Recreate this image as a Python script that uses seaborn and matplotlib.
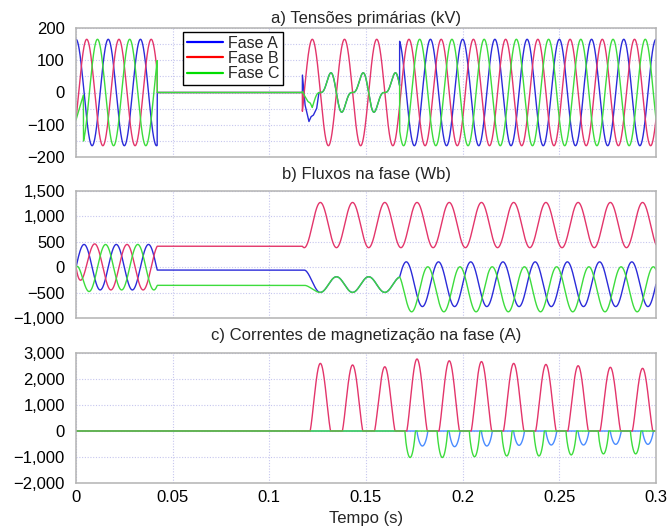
import numpy as np
import pandas as pd
import matplotlib
matplotlib.use("Agg")
import matplotlib.pyplot as plt
import seaborn as sns
from matplotlib.ticker import FuncFormatter, MultipleLocator, FixedLocator
from matplotlib.lines import Line2D

# ---------------- values ----------------
PHASE_NAMES = ["Fase A", "Fase B", "Fase C"]
FREQ_HZ = 60.0
PHASE_SHIFT = [0.0, -2 * np.pi / 3, 2 * np.pi / 3]
VOLT_PEAK_KV = 165.0
T_OPEN = 0.0420        # all three phases de-energised
T_CLOSE_B = 0.1171     # phase B re-energised
T_CLOSE_AC = 0.1674    # phases A and C re-energised
T_END = 0.30

# initial green (phase C) voltage transient
C_START_T = [0.0, 0.0038]
C_START_V = [-85.0, -8.0]
C_WAVE_START = 0.0039

# induced voltage on the open phases A / C while only B is energised
AC_INDUCED_KV = 47.0
AC_INDUCED_SHIFT = -1.55
A_TRANS_T = [0.11712, 0.1185, 0.1205, 0.1216, 0.1228, 0.1245]
A_TRANS_V = [54.0, -39.0, -90.0, -75.0, -70.0, -49.0]
A_MERGE = 0.1256
C_TRANS_T = [0.11712, 0.1185, 0.1200, 0.1212]
C_TRANS_V = [3.0, -13.0, -28.0, -33.0]
C_MERGE = 0.1222

# fluxes (Wb)
FLUX_PEAK_1 = 448.0
FLUX_START_TAU = 0.0027
FLUX_B_AMP_2 = 445.0
FLUX_AC_CENTER_2 = -342.0
FLUX_AC_AMP_2 = 154.0
FLUX_BLEND = (0.1180, 0.1262)
FLUX_A_CENTER_3, FLUX_A_AMP_3 = -335.0, 440.0
FLUX_C_CENTER_3, FLUX_C_AMP_3 = -435.0, 443.0
FLUX_JUMP_TAU = 0.001

# magnetising current pulses (A)
I_B_PEAKS = [2600, 2540, 2470, 2770, 2700, 2670, 2600, 2560, 2510, 2450, 2410]
I_C_PEAKS = [-1020, -1020, -990, -960, -960, -920, -880, -880]
I_A_PEAKS = [-577, -603, -577, -551, -538, -538, -513, -513]
I_B_FIRST_CYCLE = 7
I_AC_FIRST_CYCLE = 10
I_B_HALFWIDTH, I_B_POWER = 0.00530, 1.2
I_C_HALFWIDTH, I_C_POWER = 0.0027, 0.8
I_A_HALFWIDTH, I_A_POWER = 0.0028, 0.8
I_C_SHIFT = -0.0008

TITLES = ["a) Tensões primárias (kV)", "b) Fluxos na fase (Wb)",
          "c) Correntes de magnetização na fase (A)"]
X_LABEL = "Tempo (s)"
X_TICKS = [0, 0.05, 0.1, 0.15, 0.2, 0.25, 0.3]
Y_TICKS = [[-200, -100, 0, 100, 200],
           [-1000, -500, 0, 500, 1000, 1500],
           [-2000, -1000, 0, 1000, 2000, 3000]]
Y_LIMS = [(-200, 200), (-1000, 1500), (-2000, 3000)]

# ---------------- build the waveforms ----------------
w = 2 * np.pi * FREQ_HZ
DT = 2e-5
t = np.round(np.arange(0, T_END + DT / 2, DT), 7)


def wave(tt, k):
    return VOLT_PEAK_KV * np.cos(w * tt + PHASE_SHIFT[k])


def induced(tt):
    x = w * tt + PHASE_SHIFT[1] + AC_INDUCED_SHIFT
    return AC_INDUCED_KV * (np.sin(x) - 0.5 * np.sin(2 * x))


m_open = (t >= T_OPEN) & (t < T_CLOSE_B)
m_ac = t >= T_CLOSE_AC

tA = np.concatenate([t[t < T_OPEN], t[m_open], A_TRANS_T,
                     t[(t >= A_MERGE) & (t < T_CLOSE_AC)], t[m_ac]])
vA = np.concatenate([wave(t[t < T_OPEN], 0), np.zeros(m_open.sum()), A_TRANS_V,
                     induced(t[(t >= A_MERGE) & (t < T_CLOSE_AC)]), wave(t[m_ac], 0)])

tB = np.concatenate([t[t < T_OPEN], t[m_open], t[t >= T_CLOSE_B]])
vB = np.concatenate([wave(t[t < T_OPEN], 1), np.zeros(m_open.sum()),
                     wave(t[t >= T_CLOSE_B], 1)])

mc1 = (t >= C_WAVE_START) & (t < T_OPEN)
mc2 = (t >= C_MERGE) & (t < T_CLOSE_AC)
tC = np.concatenate([C_START_T, t[mc1], t[m_open], C_TRANS_T, t[mc2], t[m_ac]])
vC = np.concatenate([C_START_V, wave(t[mc1], 2), np.zeros(m_open.sum()), C_TRANS_V,
                     induced(t[mc2]), wave(t[m_ac], 2)])


def flux1(tt, k):
    s = PHASE_SHIFT[k]
    return FLUX_PEAK_1 * (np.sin(w * tt + s) - np.sin(s) * np.exp(-tt / FLUX_START_TAU))


frozen = [flux1(T_OPEN, k) for k in range(3)]
thB = lambda tt: w * tt + PHASE_SHIFT[1]
fluxB = np.where(t < T_OPEN, flux1(t, 1),
                 np.where(t < T_CLOSE_B, frozen[1],
                          frozen[1] + FLUX_B_AMP_2 * (np.sin(thB(t)) - np.sin(thB(T_CLOSE_B)))))

ac2 = lambda tt: FLUX_AC_CENTER_2 - FLUX_AC_AMP_2 * np.sin(thB(tt))
b0, b1 = FLUX_BLEND
u = np.clip((t - b0) / (b1 - b0), 0, 1)
smooth = u * u * (3 - 2 * u)


def flux_ac(k, center3, amp3):
    f0 = frozen[k]
    seg2 = np.where(t < b1, f0 + (ac2(b1) - f0) * smooth, ac2(t))
    model3 = lambda tt: center3 + amp3 * np.sin(w * tt + PHASE_SHIFT[k])
    jump = ac2(T_CLOSE_AC) - model3(T_CLOSE_AC)
    seg3 = model3(t) + jump * np.exp(-np.clip(t - T_CLOSE_AC, 0, None) / FLUX_JUMP_TAU)
    return np.where(t < T_OPEN, flux1(t, k),
                    np.where(t < T_CLOSE_B, f0,
                             np.where(t < T_CLOSE_AC, seg2, seg3)))


fluxA = flux_ac(0, FLUX_A_CENTER_3, FLUX_A_AMP_3)
fluxC = flux_ac(2, FLUX_C_CENTER_3, FLUX_C_AMP_3)


def pulse_train(tt, centers, peaks, halfwidth, power):
    out = np.zeros_like(tt)
    a = w * halfwidth
    for c, p in zip(centers, peaks):
        uu = (tt - c) / halfwidth
        m = np.abs(uu) < 1
        s = (np.cos(a * uu[m]) - np.cos(a)) / (1 - np.cos(a))
        out[m] += p * s ** power
    return out


period = 1 / FREQ_HZ
cB = [(np.pi / 2 - PHASE_SHIFT[1]) / w + n * period
      for n in range(I_B_FIRST_CYCLE, I_B_FIRST_CYCLE + len(I_B_PEAKS))]
cA = [(3 * np.pi / 2 - PHASE_SHIFT[0]) / w + n * period
      for n in range(I_AC_FIRST_CYCLE, I_AC_FIRST_CYCLE + len(I_A_PEAKS))]
cC = [(3 * np.pi / 2 - PHASE_SHIFT[2]) / w + n * period + I_C_SHIFT
      for n in range(I_AC_FIRST_CYCLE, I_AC_FIRST_CYCLE + len(I_C_PEAKS))]
iB = pulse_train(t, cB, I_B_PEAKS, I_B_HALFWIDTH, I_B_POWER)
iA = pulse_train(t, cA, I_A_PEAKS, I_A_HALFWIDTH, I_A_POWER)
iC = pulse_train(t, cC, I_C_PEAKS, I_C_HALFWIDTH, I_C_POWER)


def long_df(series):
    return pd.concat([pd.DataFrame({"t": tt, "v": vv, "fase": name})
                      for (tt, vv), name in zip(series, PHASE_NAMES)], ignore_index=True)


panels = [long_df([(tA, vA), (tB, vB), (tC, vC)]),
          long_df([(t, fluxA), (t, fluxB), (t, fluxC)]),
          long_df([(t, iA), (t, iB), (t, iC)])]

# ---------------- draw ----------------
sns.set_theme(style="white")
plt.rcParams["font.family"] = ["Liberation Sans", "DejaVu Sans"]

COL_A, COL_B, COL_C = "#2b2bd9", "#e3356b", "#3ddc3d"
COL_A_CUR = "#4a8cff"
palettes = [[COL_A, COL_B, COL_C], [COL_A, COL_B, COL_C], [COL_A_CUR, COL_B, COL_C]]
GRID_COL = "#c6c6ee"
SPINE_COL = "#b3b3b3"

fig = plt.figure(figsize=(6.68, 5.27), dpi=100)
L, Wd = 76 / 668, 580 / 668
rects = [(28, 157), (191, 318), (353, 483)]
title_pads = [3.6, 8.6, 9.4]


def fmt_y(v, pos):
    s = f"{abs(v):,.0f}"
    return "\u2212" + s if v < 0 else s


axes = []
for i, (top, bot) in enumerate(rects):
    ax = fig.add_axes([L, 1 - bot / 527, Wd, (bot - top) / 527])
    axes.append(ax)
    sns.lineplot(data=panels[i], x="t", y="v", hue="fase", hue_order=PHASE_NAMES,
                 palette=palettes[i], estimator=None, errorbar=None, sort=False,
                 legend=False, linewidth=1.0, ax=ax)
    ax.set_xlim(0, T_END)
    ax.set_ylim(*Y_LIMS[i])
    ax.yaxis.set_major_locator(FixedLocator(Y_TICKS[i]))
    ax.yaxis.set_major_formatter(FuncFormatter(fmt_y))
    ax.xaxis.set_major_locator(FixedLocator(X_TICKS))
    ax.xaxis.set_major_formatter(FuncFormatter(lambda v, p: f"{v:g}"))
    if i == 0:
        ax.yaxis.set_minor_locator(MultipleLocator(50))
    ax.grid(True, which="both", axis="y", linestyle=(0, (1, 1.5)), color=GRID_COL, lw=0.8)
    ax.grid(True, which="major", axis="x", linestyle=(0, (1, 1.5)), color=GRID_COL, lw=0.8)
    ax.set_axisbelow(True)
    ax.tick_params(which="both", length=0, labelsize=12, colors="black")
    ax.tick_params(axis="y", pad=8)
    ax.tick_params(axis="x", pad=5)
    for sp in ax.spines.values():
        sp.set_color(SPINE_COL)
        sp.set_linewidth(1.1)
        sp.set_visible(True)
    ax.set_ylabel("")
    ax.set_title(TITLES[i], fontsize=12, pad=title_pads[i])
    if i < 2:
        ax.set_xlabel("")
        ax.set_xticklabels([])
    else:
        ax.set_xlabel(X_LABEL, fontsize=12, labelpad=4)

handles = [Line2D([], [], color=c, lw=1.6) for c in ["#0000ff", "#ff0000", "#00dd00"]]
leg = axes[0].legend(handles, PHASE_NAMES, loc="upper left", bbox_to_anchor=(0.1845, 0.969),
                     borderaxespad=0, frameon=True, fancybox=False, fontsize=11.5,
                     handlelength=2.3, handletextpad=0.3, labelspacing=0.02,
                     borderpad=0.22, framealpha=1)
leg.get_frame().set_edgecolor("black")
leg.get_frame().set_linewidth(1.0)

fig.savefig("out.png", dpi=100)
